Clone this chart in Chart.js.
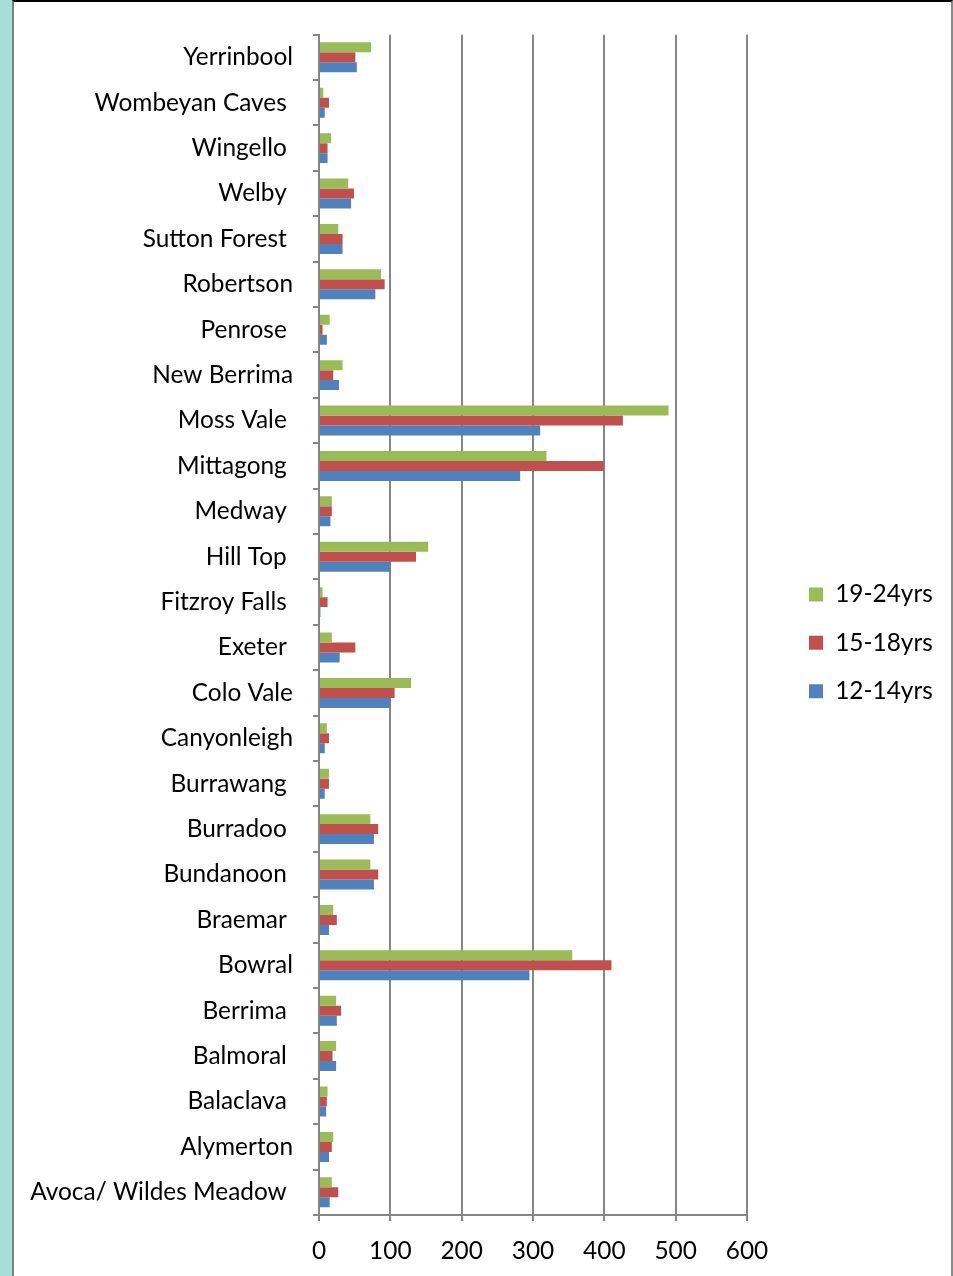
<!DOCTYPE html>
<html>
<head>
<meta charset="utf-8">
<script src="https://cdn.jsdelivr.net/npm/chart.js@4.4.1/dist/chart.umd.min.js"></script>
<style>
  html, body { margin: 0; padding: 0; background: #fff; }
  #page { position: relative; width: 953px; height: 1276px; overflow: hidden; }
  #strip { position: absolute; left: 0; top: 0; width: 12px; height: 1276px; background: #a8dcd6; }
  #frame { position: absolute; left: 12px; top: 0; width: 937px; height: 1280px;
           border-left: 2px solid #7f7f7f; border-top: 2px solid #000; border-right: 2px solid #8a8a8a; }
  #chart { position: absolute; left: 0; top: 0; }
</style>
</head>
<body>
<div id="page">
  <div id="strip"></div>
  <div id="frame"></div>
  <canvas id="chart" width="953" height="1276"></canvas>
</div>
<script>
// suburbs, top to bottom (trailing spaces are in the source labels)
const suburbs = [
  'Yerrinbool', 'Wombeyan Caves ', 'Wingello ', 'Welby ', 'Sutton Forest ',
  'Robertson', 'Penrose ', 'New Berrima', 'Moss Vale ', 'Mittagong ',
  'Medway ', 'Hill Top ', 'Fitzroy Falls ', 'Exeter ', 'Colo Vale',
  'Canyonleigh', 'Burrawang ', 'Burradoo ', 'Bundanoon ', 'Braemar ',
  'Bowral', 'Berrima ', 'Balmoral ', 'Balaclava ', 'Alymerton',
  'Avoca/ Wildes Meadow '
];

const age19to24 = [73, 6, 17, 41, 27, 87, 15, 33, 490, 319, 18, 153, 5, 18, 129, 11, 14, 72, 72, 20, 355, 24, 24, 12, 20, 18];
const age15to18 = [51, 14, 12, 49, 33, 92, 5, 20, 426, 399, 18, 136, 12, 51, 106, 14, 14, 83, 83, 25, 410, 31, 19, 11, 18, 27];
const age12to14 = [53, 8, 12, 45, 33, 79, 11, 28, 310, 282, 16, 100, 2, 29, 100, 8, 8, 77, 77, 14, 295, 25, 24, 10, 14, 15];

const xTicks = [0, 100, 200, 300, 400, 500, 600];

const gridGray = '#868686';
const labelFont = { family: 'Lato', size: 24.4 };

new Chart(document.getElementById('chart'), {
  type: 'bar',
  data: {
    labels: suburbs,
    datasets: [
      { label: '19-24yrs', data: age19to24, backgroundColor: '#9bbb59' },
      { label: '15-18yrs', data: age15to18, backgroundColor: '#c0504d' },
      { label: '12-14yrs', data: age12to14, backgroundColor: '#4f81bd' }
    ]
  },
  options: {
    indexAxis: 'y',
    responsive: false,
    animation: false,
    devicePixelRatio: 1,
    categoryPercentage: 0.66,
    barPercentage: 1.0,
    layout: { padding: { top: 33, left: 0, right: 11, bottom: 0 } },
    scales: {
      x: {
        min: xTicks[0],
        max: xTicks[xTicks.length - 1],
        afterBuildTicks: function(scale) {
          scale.ticks = xTicks.map(v => ({ value: v }));
        },
        afterFit: function(scale) { scale.height = 61; },
        grid: { color: gridGray, lineWidth: 2, tickLength: 6 },
        border: { color: gridGray, width: 2 },
        ticks: { color: '#000', font: labelFont, padding: 16, maxRotation: 0 }
      },
      y: {
        afterFit: function(scale) { scale.width = 319; },
        grid: { offset: true, drawOnChartArea: false, color: gridGray, lineWidth: 2, tickLength: 6 },
        border: { color: gridGray, width: 2 },
        ticks: { color: '#000', font: labelFont, padding: 20, autoSkip: false }
      },
      // empty right axis, only keeps the gap between plot and legend
      yRight: {
        type: 'category',
        position: 'right',
        afterFit: function(scale) { scale.width = 38; },
        grid: { display: false },
        border: { display: false },
        ticks: { display: false }
      }
    },
    plugins: {
      legend: {
        position: 'right',
        fullSize: false,
        title: { display: true, text: ' ', padding: 0, font: { size: 30, lineHeight: 1.2 } },
        labels: {
          color: '#000',
          font: labelFont,
          boxWidth: 14,
          boxHeight: 14,
          padding: 24
        }
      },
      tooltip: { enabled: false }
    }
  }
});
</script>
</body>
</html>
